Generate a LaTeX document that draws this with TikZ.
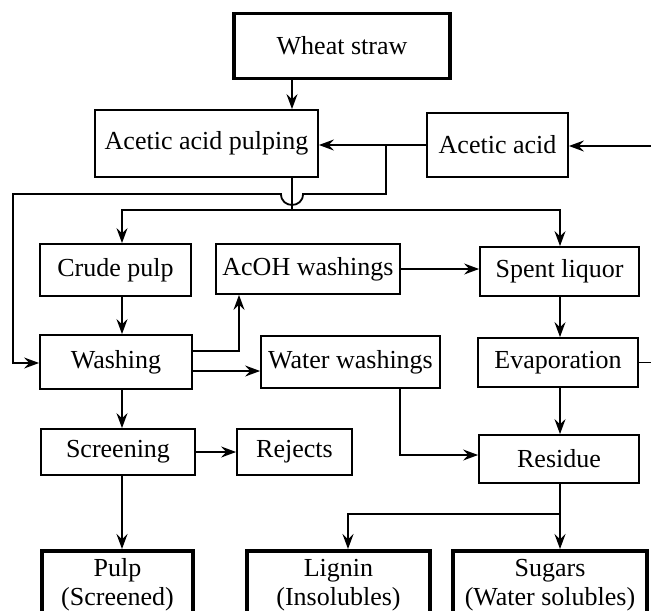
\documentclass[tikz,border=0pt]{standalone}
\usepackage{fontspec}
\setmainfont{Liberation Serif}
\usetikzlibrary{arrows.meta,calc}
\begin{document}
\begin{tikzpicture}[x=0.5pt,y=-0.5pt,
  box/.style={draw,line width=0.9pt,inner sep=0pt,align=center,font=\fontsize{13}{14.5}\selectfont},
  thickbox/.style={box,line width=1.9pt},
  ln/.style={line width=0.9pt},
  arr/.style={ln,-{Stealth[length=7.5pt,width=5.5pt,inset=2.6pt]}},
]
\useasboundingbox (0,0) rectangle (651,610);
\clip (0,0) rectangle (651,610);

% nodes
\node[thickbox,minimum width=108pt,minimum height=32.5pt] (wheat) at (342,46) {Wheat straw};
\node[box,minimum width=111.5pt,minimum height=33.5pt] (pulping) at (206.5,143.5) {Acetic acid pulping};
\node[box,minimum width=70.5pt,minimum height=32pt] (acetic) at (497.5,145) {Acetic acid};
\node[box,minimum width=75.5pt,minimum height=26pt] (crude) at (115.5,270) {Crude pulp};
\node[box,minimum width=92pt,minimum height=25pt] (acoh) at (308,269) {AcOH washings};
\node[box,minimum width=79.5pt,minimum height=24.5pt] (spent) at (559.5,271.5) {Spent liquor};
\node[box,minimum width=76pt,minimum height=27pt] (washing) at (116,362) {Washing};
\node[box,minimum width=89.5pt,minimum height=26pt] (water) at (350.5,362) {Water washings};
\node[box,minimum width=80pt,minimum height=24.5pt] (evap) at (558,362.5) {Evaporation};
\node[box,minimum width=77pt,minimum height=23pt] (screening) at (118,452) {Screening};
\node[box,minimum width=57.5pt,minimum height=23pt] (rejects) at (294.5,452) {Rejects};
\node[box,minimum width=80pt,minimum height=24pt] (residue) at (559,459) {Residue};
\node[thickbox,anchor=north,minimum width=75.5pt,minimum height=34pt] (pulp) at (117.5,549) {Pulp\\(Screened)};
\node[thickbox,anchor=north,minimum width=91.5pt,minimum height=34pt] (lignin) at (338.5,549) {Lignin\\(Insolubles)};
\node[thickbox,anchor=north,minimum width=97pt,minimum height=34pt] (sugars) at (550,549) {Sugars\\(Water solubles)};

% helper coordinates
\coordinate (cL) at (122,0);
\coordinate (cP) at (292,0);
\coordinate (cR) at (386,0);
\coordinate (cA) at (239,0);
\coordinate (cX) at (13,0);
\coordinate (cW) at (400,0);
\coordinate (cS) at (560,0);
\coordinate (cG) at (348,0);
\coordinate (yH) at (0,194);
\coordinate (yB) at (0,210);
\coordinate (yW1) at (0,351);
\coordinate (yW2) at (0,371);
\coordinate (yWR) at (0,455);
\coordinate (yRB) at (0,514);
\coordinate (yIn) at (0,363);
\coordinate (inR) at (651,146);
\coordinate (outR) at (651,363);

% connectors
\draw[arr] (cP |- wheat.south) -- (cP |- pulping.north);
\draw[arr] (acetic.west) -- (acetic.west -| pulping.east);
\draw[arr] (inR) -- (inR -| acetic.east);
\draw[arr] (cR |- acetic.west) -- (cR |- yH) -- ([xshift=5.5pt]cP |- yH)
  .. controls ([xshift=5.5pt,yshift=-7.3pt]cP |- yH) and ([xshift=-5.5pt,yshift=-7.3pt]cP |- yH) ..
  ([xshift=-5.5pt]cP |- yH) -- (cX |- yH) -- (cX |- yIn) -- (yIn -| washing.west);
\draw[ln] (cP |- pulping.south) -- (cP |- yB);
\draw[arr] (cP |- yB) -| (cL |- crude.north);
\draw[arr] (cP |- yB) -| (cS |- spent.north);
\draw[arr] (cL |- crude.south) -- (cL |- washing.north);
\draw[arr] (acoh.east) -- (acoh.east -| spent.west);
\draw[arr] (cS |- spent.south) -- (cS |- evap.north);
\draw[arr] (yW1 -| washing.east) -| (cA |- acoh.south);
\draw[arr] (yW2 -| washing.east) -- (yW2 -| water.west);
\draw[ln] (evap.east) -- (evap.east -| outR);
\draw[arr] (cL |- washing.south) -- (cL |- screening.north);
\draw[arr] (screening.east) -- (screening.east -| rejects.west);
\draw[arr] (cW |- water.south) |- (yWR -| residue.west);
\draw[arr] (cS |- evap.south) -- (cS |- residue.north);
\draw[ln] (cS |- residue.south) -- (cS |- yRB);
\draw[arr] (cS |- yRB) -| (cG |- lignin.north);
\draw[arr] (cS |- yRB) -- (cS |- sugars.north);
\draw[arr] (cL |- screening.south) -- (cL |- pulp.north);
\end{tikzpicture}
\end{document}
